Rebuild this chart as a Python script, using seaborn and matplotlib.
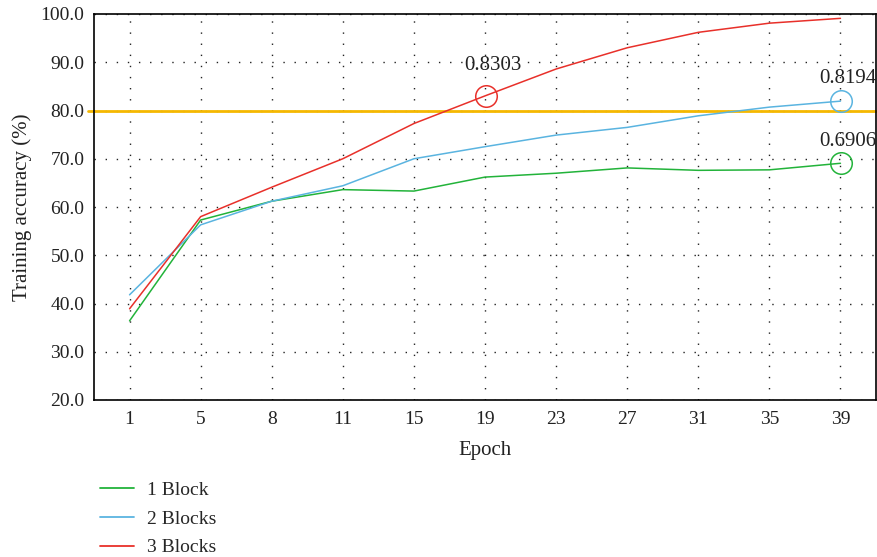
import matplotlib
matplotlib.use("Agg")
import matplotlib.pyplot as plt
import seaborn as sns
import pandas as pd
import numpy as np

epochs = ["1", "5", "8", "11", "15", "19", "23", "27", "31", "35", "39"]
one_block = [36.4, 57.3, 61.2, 63.6, 63.3, 66.2, 67.0, 68.1, 67.6, 67.7, 69.06]
two_blocks = [41.8, 56.3, 61.2, 64.4, 70.0, 72.5, 74.9, 76.5, 78.9, 80.7, 81.94]
three_blocks = [38.9, 58.0, 64.1, 70.0, 77.3, 83.03, 88.6, 93.0, 96.2, 98.1, 99.1]
series_names = ["1 Block", "2 Blocks", "3 Blocks"]
yticks = [20, 30, 40, 50, 60, 70, 80, 90, 100]
threshold = 80.0
annotations = [("3 Blocks", "19", "0.8303"), ("2 Blocks", "39", "0.8194"), ("1 Block", "39", "0.6906")]

colors = {"1 Block": "#22B33A", "2 Blocks": "#5AB4E0", "3 Blocks": "#E8302A"}

rows = []
for name, vals in zip(series_names, [one_block, two_blocks, three_blocks]):
    for i, (e, v) in enumerate(zip(epochs, vals)):
        rows.append({"idx": i, "Epoch": e, "acc": v, "series": name})
df = pd.DataFrame(rows)

sns.set_style("white")
plt.rcParams["font.family"] = ["Liberation Serif", "DejaVu Serif"]

fig = plt.figure(figsize=(8.78, 5.57), dpi=100)
ax = fig.add_axes([94/878, 1-400/557, (876-94)/878, (400-14)/557])

sns.lineplot(data=df, x="idx", y="acc", hue="series", palette=colors,
             hue_order=series_names, linewidth=1.1, ax=ax, legend=True)

ax.axhline(threshold, xmin=-0.008, xmax=1.0, color="#F5B800", linewidth=2.0,
           zorder=1, clip_on=False)

offsets = {"0.8303": 6.4, "0.8194": 4.6, "0.6906": 4.6}
for name, ep, label in annotations:
    i = epochs.index(ep)
    v = df[(df.series == name) & (df.idx == i)].acc.iloc[0]
    ax.plot([i + 0.01], [v], marker="o", markersize=15.5, markerfacecolor="none",
            markeredgecolor=colors[name], markeredgewidth=1.1, clip_on=False)
    ax.text(i + 0.11, v + offsets[label], label, ha="center", va="center",
            fontsize=15, color="#222222", clip_on=False)

ax.set_xlim(-0.5, 10.5)
ax.set_ylim(20, 100)
ax.set_xticks(range(len(epochs)))
ax.set_xticklabels(epochs)
ax.set_yticks(yticks)
ax.set_yticklabels([f"{t:.1f}" for t in yticks])
ax.tick_params(axis="both", length=0, labelsize=14, colors="#222222")
ax.tick_params(axis="y", pad=7)
ax.tick_params(axis="x", pad=8)
ax.grid(True, linestyle=(0, (1, 7)), color="#222222", linewidth=1.0)
for s in ax.spines.values():
    s.set_color("black")
    s.set_linewidth(1.2)
    s.set_visible(True)
ax.set_xlabel("Epoch", fontsize=15, color="#222222", labelpad=9)
ax.set_ylabel("Training accuracy (%)", fontsize=15, color="#222222", labelpad=6)

handles, labels = ax.get_legend_handles_labels()
ax.get_legend().remove()
leg = fig.legend(handles, labels, loc="upper left", bbox_to_anchor=(100/878, 1-481/557),
                 frameon=False, fontsize=14, handlelength=1.75, labelspacing=0.58,
                 handletextpad=0.67, borderpad=0, borderaxespad=0)
for line in leg.get_lines():
    line.set_linewidth(1.3)

fig.savefig("out.png", dpi=100)
